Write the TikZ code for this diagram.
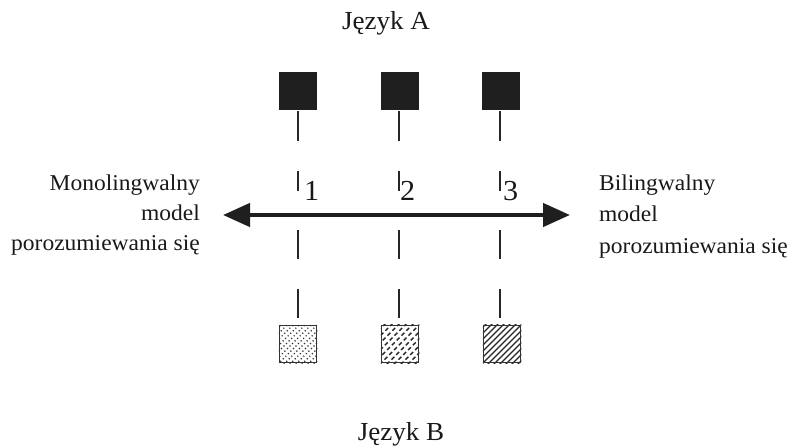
\documentclass[tikz,border=0pt]{standalone}
\usepackage{fontspec}
\setmainfont{Liberation Serif}[FakeStretch=1.04]
\usetikzlibrary{arrows.meta}
\begin{document}
\begin{tikzpicture}[x=1pt,y=-1pt,
  topbox/.style={draw=none, fill=black!88, minimum size=38pt, inner sep=0pt},
  botbox/.style={draw=black!80, line width=1.5pt, minimum size=37pt, inner sep=0pt},
  tick/.style={line width=2pt, draw=black!85},
  sidetext/.style={font=\fontsize{22.6}{30}\selectfont, inner sep=0pt, text=black!90},
  headtext/.style={font=\fontsize{26}{28}\selectfont, inner sep=0pt, text=black!90},
  numtext/.style={font=\fontsize{29}{30}\selectfont, inner sep=0pt, text=black!90},
  hatch/.style={line width=1.2pt, draw=black!85},
  mainarrow/.style={line width=4.5pt, draw=black!88, {Triangle[length=27pt,width=23pt]}-{Triangle[length=27pt,width=23pt]}}
  ]
\useasboundingbox (0,0) rectangle (792,447);

% headings
\node[headtext, anchor=base] (ja) at (386,29) {Język A};
\node[headtext, anchor=base] (jb) at (401,440) {Język B};

% top squares
\node[topbox] (t1) at (298,90.5) {};
\node[topbox] (t2) at (400,90.5) {};
\node[topbox] (t3) at (501,90.5) {};

% bottom squares
\node[botbox] (b1) at (298,344) {};
\node[botbox] (b2) at (400,344) {};
\node[botbox] (b3) at (502,344) {};

% dashes
\foreach \x [count=\i] in {297.5,399,500} {
  \draw[tick] (\x,111) -- (\x,141);
  \draw[tick] (\x,171) -- (\x,191);
  \draw[tick] (\x,230) -- (\x,259);
  \draw[tick] (\x,289) -- (\x,318);
}

% numbers
\node[numtext, anchor=base west] (n1) at (304,200) {1};
\node[numtext, anchor=base west] (n2) at (400,200) {2};
\node[numtext, anchor=base west] (n3) at (503,200) {3};

% main arrow
\coordinate (al) at (223,215);
\coordinate (ar) at (570,215);
\draw[mainarrow] (al) -- (ar);

% left text
\node[sidetext, anchor=base east] (l1) at (200,190.7) {Monolingwalny};
\node[sidetext, anchor=base east] (l2) at (200,220.7) {model};
\node[sidetext, anchor=base east] (l3) at (200,250.7) {porozumiewania się};

% right text
\node[sidetext, anchor=base west] (r1) at (599,190) {Bilingwalny};
\node[sidetext, anchor=base west] (r2) at (599,221.5) {model};
\node[sidetext, anchor=base west] (r3) at (599,253) {porozumiewania się};

% patterns
\begin{scope}
  \clip (b1.south west) rectangle (b1.north east);
  \foreach \k in {-60,-54,...,60}
    \draw[line width=1.7pt, draw=black!80, line cap=round, dash pattern=on 0pt off 3.6pt]
      (298+\k-30,344+30) -- (298+\k+30,344-30);
\end{scope}
\begin{scope}
  \clip (b2.south west) rectangle (b2.north east);
  \foreach \k in {-63,-56,...,63}
    \draw[hatch, line width=1.4pt, dash pattern=on 4pt off 2.8pt]
      (400+\k-30,344+30) -- (400+\k+30,344-30);
\end{scope}
\begin{scope}
  \clip (b3.south west) rectangle (b3.north east);
  \foreach \k in {-60,-54,...,60}
    \draw[hatch]
      (502+\k-30,344+30) -- (502+\k+30,344-30);
\end{scope}
\node[botbox] at (b1) {};
\node[botbox] at (b2) {};
\node[botbox] at (b3) {};
\end{tikzpicture}
\end{document}
